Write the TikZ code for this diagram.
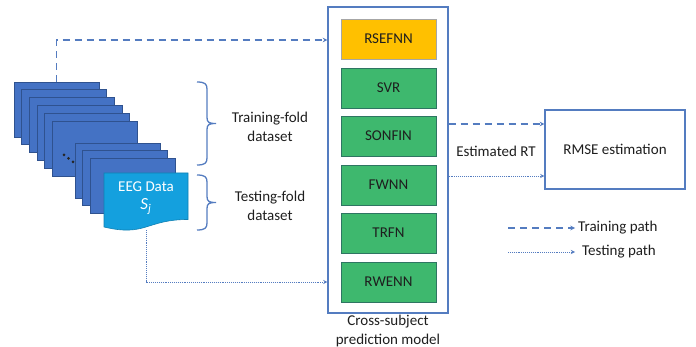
\documentclass[tikz,border=0pt]{standalone}
\usepackage{fontspec}
\setmainfont{Carlito}
\usetikzlibrary{arrows}
\definecolor{sheetblue}{RGB}{68,114,196}
\definecolor{sheetedge}{RGB}{47,82,143}
\definecolor{eegblue}{RGB}{20,160,222}
\definecolor{modelgreen}{RGB}{62,184,110}
\definecolor{greenedge}{RGB}{46,117,98}
\definecolor{modelgold}{RGB}{255,192,0}
\definecolor{lineblue}{RGB}{84,124,192}
\definecolor{textgray}{RGB}{30,30,30}
\tikzstyle{trainpath} = [lineblue,line width=1.1pt,dash pattern=on 7pt off 5pt,->,>=stealth]
\tikzstyle{testpath} = [lineblue,line width=0.9pt,densely dotted,->,>=stealth]
\tikzstyle{modelbox} = [draw=greenedge,fill=modelgreen,line width=0.8pt,minimum width=95pt,minimum height=40pt,inner sep=0pt,text=textgray]
\tikzstyle{sheet} = [draw=sheetedge,fill=sheetblue,line width=0.8pt]
\tikzstyle{fold} = [draw=lineblue,line width=1.3pt]
\tikzstyle{caption} = [text=textgray,align=center,font=\fontsize{15}{19}\selectfont]
% brace: left x, top y, bottom y
\newcommand{\foldbrace}[3]{%
	\draw[fold] (#1,#2) .. controls (#1+8,#2) and (#1+10,#2+2) .. (#1+10,#2+7)
		-- (#1+10,{(#2+#3)/2-6}) .. controls (#1+10,{(#2+#3)/2-1}) and (#1+12,{(#2+#3)/2}) .. (#1+19,{(#2+#3)/2})
		.. controls (#1+12,{(#2+#3)/2}) and (#1+10,{(#2+#3)/2+1}) .. (#1+10,{(#2+#3)/2+6})
		-- (#1+10,#3-7) .. controls (#1+10,#3-2) and (#1+8,#3) .. (#1,#3);}

\begin{document}
\begin{tikzpicture}[x=1pt,y=-1pt,font=\fontsize{15}{18}\selectfont]
		\useasboundingbox (0,0) rectangle (696,347);

		% define constants
		\def \sw {85}
		\def \sh {55}

		% Draw the stack of sheets
		\foreach \i in {0,...,5}
			\draw[sheet] (14+7.7*\i,82+7.8*\i) rectangle ++(\sw,\sh);
		\node[inner sep=0pt,minimum width=\sw pt,minimum height=\sh pt] (sheet1) at (14+\sw/2,82+\sh/2) {};
		\foreach \i in {0,1,2}
			\draw[sheet] (75+7.6*\i,143+7.6*\i) rectangle ++(\sw,\sh);
		\foreach \i in {0,1,2}
			\fill[black!85] (64+4.5*\i,155+3.5*\i) circle (1.5pt);

		% front sheet
		\filldraw[fill=eegblue,draw=eegblue!80!black,line width=0.6pt]
			(104,173) -- (188,173) -- (188,219.5)
			.. controls (146,219.5) and (146,237) .. (104,227) -- cycle;
		\node[inner sep=0pt,minimum width=84pt,minimum height=58pt] (eeg) at (146,201) {};
		\node[text=white,align=center,font=\fontsize{15}{19}\selectfont] (eeglabel) at (146,198)
			{EEG Data\\[-1pt]{\fontsize{17}{19}\selectfont\itshape S\textsubscript{j}}};

		% Draw the braces
		\foldbrace{197}{82}{165}
		\foldbrace{197}{175}{230}
		\node[caption] (trainfold) at (270,127) {Training-fold\\dataset};
		\node[caption] (testfold) at (270,206) {Testing-fold\\dataset};

		% model frame and boxes
		\node[draw=lineblue,line width=1.2pt,minimum width=120pt,minimum height=306pt,inner sep=0pt] (model) at (388,160) {};
		\node[modelbox,fill=modelgold,draw=gray!70] (rsefnn) at (388.5,39) {RSEFNN};
		\node[modelbox] (svr) at (388.5,88) {SVR};
		\node[modelbox] (sonfin) at (388.5,136) {SONFIN};
		\node[modelbox] (fwnn) at (388.5,185) {FWNN};
		\node[modelbox] (trfn) at (388.5,233) {TRFN};
		\node[modelbox] (rwenn) at (388.5,282) {RWENN};
		\node[caption,anchor=north,inner sep=1pt] (modelname) at (model.south) {Cross-subject\\prediction model};

		% RMSE box
		\node[draw=lineblue,line width=1.2pt,minimum width=140pt,minimum height=79pt,inner sep=0pt,text=textgray] (rmse) at (615,149.5) {RMSE estimation};
		\node[text=textgray] (estrt) at (496,151) {Estimated RT};

		% paths
		\draw[trainpath] (sheet1.north) |- (model.west |- 0,40);
		\draw[testpath] (eeg.south) |- (model.west |- rwenn.west);
		\draw[trainpath] (model.east |- 0,124) -- (rmse.west |- 0,124);
		\draw[testpath] (model.east |- 0,176) -- (rmse.west |- 0,176);

		% legend
		\coordinate (trainA) at (508,228);
		\coordinate (trainB) at (575,228);
		\coordinate (testA) at (508,252);
		\coordinate (testB) at (575,252);
		\draw[trainpath] (trainA) -- (trainB);
		\draw[testpath] (testA) -- (testB);
		\node[text=textgray,anchor=west,inner sep=1pt] (trainkey) at (577,228) {Training path};
		\node[text=textgray,anchor=west,inner sep=1pt] (testkey) at (581,252) {Testing path};
\end{tikzpicture}
\end{document}
